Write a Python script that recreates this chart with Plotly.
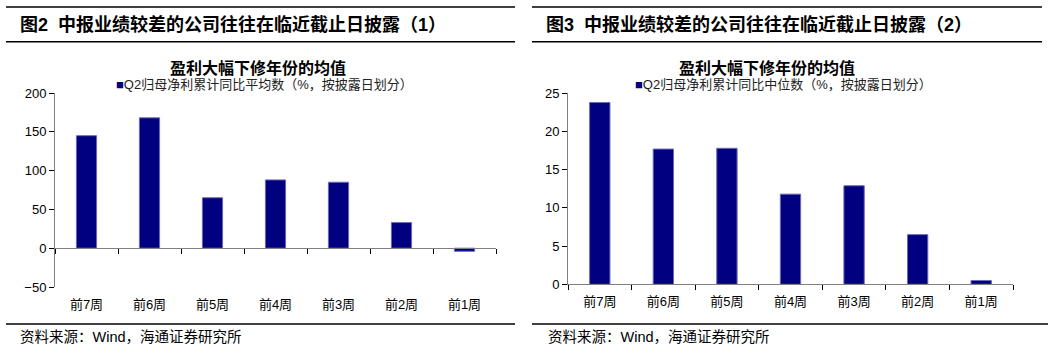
import plotly.graph_objects as go

# 披露周次
weeks = ["前7周", "前6周", "前5周", "前4周", "前3周", "前2周", "前1周"]
# Q2归母净利累计同比平均数（%）
mean_growth = [145, 168, 65, 88, 85, 33, -4]
# Q2归母净利累计同比中位数（%）
median_growth = [23.8, 17.7, 17.8, 11.8, 12.9, 6.5, 0.5]

left_ticks = [-50, 0, 50, 100, 150, 200]
right_ticks = [0, 5, 10, 15, 20, 25]

left_name = "Q2归母净利累计同比平均数（%，按披露日划分）"
right_name = "Q2归母净利累计同比中位数（%，按披露日划分）"

W, H = 1048, 349
NAVY = "#000080"
EDGE = "#6A6AB4"
AXIS = "#808080"
FONT = "Liberation Sans, Arial, Noto Sans CJK SC, sans-serif"


def px_x(p):
    return p / W


def px_y(p):
    return 1 - p / H


left_dom_x = [px_x(55), px_x(496)]
right_dom_x = [px_x(568), px_x(1013)]
left_dom_y = [px_y(287), px_y(93)]
right_dom_y = [px_y(284.3), px_y(93.3)]

left_range = [left_ticks[0], left_ticks[-1]]
right_range = [right_ticks[0], right_ticks[-1]]

# paper position of the value-zero line in the left panel
zero_pos = left_dom_y[0] + (0 - left_range[0]) / (left_range[1] - left_range[0]) * (
    left_dom_y[1] - left_dom_y[0]
)

fig = go.Figure()

fig.add_trace(go.Bar(
    x=weeks, y=mean_growth, xaxis="x", yaxis="y", name=left_name,
    marker=dict(color=NAVY, line=dict(color=EDGE, width=1)),
    showlegend=False,
))
# carrier for the category axis drawn along y = 0
fig.add_trace(go.Scatter(
    x=weeks, y=mean_growth, xaxis="x3", yaxis="y",
    mode="markers", marker=dict(opacity=0, size=1),
    showlegend=False, hoverinfo="skip",
))
fig.add_trace(go.Bar(
    x=weeks, y=median_growth, xaxis="x2", yaxis="y2", name=right_name,
    marker=dict(color=NAVY, line=dict(color=EDGE, width=1)),
    showlegend=False,
))

tick_font = dict(family=FONT, size=13, color="#000")
cat_font = dict(family=FONT, size=13, color="#000")

fig.update_layout(
    width=W, height=H,
    margin=dict(l=0, r=0, t=0, b=0, autoexpand=False),
    paper_bgcolor="white", plot_bgcolor="white",
    bargap=0.68,
    font=dict(family=FONT),
    showlegend=False,
    xaxis=dict(
        domain=left_dom_x, anchor="y", type="category", automargin=False,
        categoryorder="array", categoryarray=weeks, range=[-0.5, 6.5],
        showline=False, ticks="", showgrid=False, tickfont=cat_font,
        ticklabelstandoff=8,
    ),
    xaxis3=dict(
        overlaying="x", anchor="free", position=zero_pos, type="category",
        automargin=False,
        categoryorder="array", categoryarray=weeks, range=[-0.5, 6.5],
        showline=True, linecolor=AXIS, linewidth=1,
        ticks="outside", tickson="boundaries", ticklen=5, tickcolor="#000",
        showticklabels=False, showgrid=False,
    ),
    yaxis=dict(
        domain=left_dom_y, anchor="x", range=left_range, automargin=False,
        tickvals=left_ticks, showgrid=False, zeroline=False,
        showline=True, linecolor=AXIS, linewidth=1,
        ticks="outside", ticklen=5, tickcolor="#000", tickfont=tick_font,
    ),
    xaxis2=dict(
        domain=right_dom_x, anchor="y2", type="category", automargin=False,
        categoryorder="array", categoryarray=weeks, range=[-0.5, 6.5],
        showline=True, linecolor=AXIS, linewidth=1,
        ticks="outside", tickson="boundaries", ticklen=5, tickcolor="#000",
        showgrid=False, tickfont=cat_font, ticklabelstandoff=5,
    ),
    yaxis2=dict(
        domain=right_dom_y, anchor="x2", range=right_range, automargin=False,
        tickvals=right_ticks, showgrid=False, zeroline=False,
        showline=True, linecolor=AXIS, linewidth=1,
        ticks="outside", ticklen=5, tickcolor="#000", tickfont=tick_font,
    ),
)

header_font = dict(family=FONT, size=18, color="#000")
title_font = dict(family=FONT, size=16, color="#000")
legend_font = dict(family=FONT, size=13, color="#222")
source_font = dict(family=FONT, size=14.5, color="#000")

key = f"<span style='color:{NAVY}'>■</span>"

annotations = [
    dict(text="<b>图2  中报业绩较差的公司往往在临近截止日披露（1）</b>", x=px_x(18), y=px_y(25),
         xanchor="left", yanchor="middle", font=header_font),
    dict(text="<b>图3  中报业绩较差的公司往往在临近截止日披露（2）</b>", x=px_x(544), y=px_y(25),
         xanchor="left", yanchor="middle", font=header_font),
    dict(text="<b>盈利大幅下修年份的均值</b>", x=px_x(258), y=px_y(68),
         xanchor="center", yanchor="middle", font=title_font),
    dict(text="<b>盈利大幅下修年份的均值</b>", x=px_x(767), y=px_y(68),
         xanchor="center", yanchor="middle", font=title_font),
    dict(text=key + left_name, x=px_x(114), y=px_y(85),
         xanchor="left", yanchor="middle", font=legend_font),
    dict(text=key + right_name, x=px_x(633), y=px_y(85),
         xanchor="left", yanchor="middle", font=legend_font),
    dict(text="资料来源：Wind，海通证券研究所", x=px_x(18), y=px_y(337),
         xanchor="left", yanchor="middle", font=source_font),
    dict(text="资料来源：Wind，海通证券研究所", x=px_x(546), y=px_y(337),
         xanchor="left", yanchor="middle", font=source_font),
]
for a in annotations:
    a.update(xref="paper", yref="paper", showarrow=False)
fig.update_layout(annotations=annotations)

# rules above and below the panel headers and above the source lines
rules = [
    (6, 515, 7), (6, 515, 41.7), (6, 515, 324),
    (532, 1042, 7), (532, 1042, 41.7), (532, 1048, 324),
]
fig.update_layout(shapes=[
    dict(type="line", xref="paper", yref="paper",
         x0=px_x(a), x1=px_x(b), y0=px_y(y), y1=px_y(y),
         line=dict(color="#000", width=1.5))
    for a, b, y in rules
])

fig.write_html("out.html")
